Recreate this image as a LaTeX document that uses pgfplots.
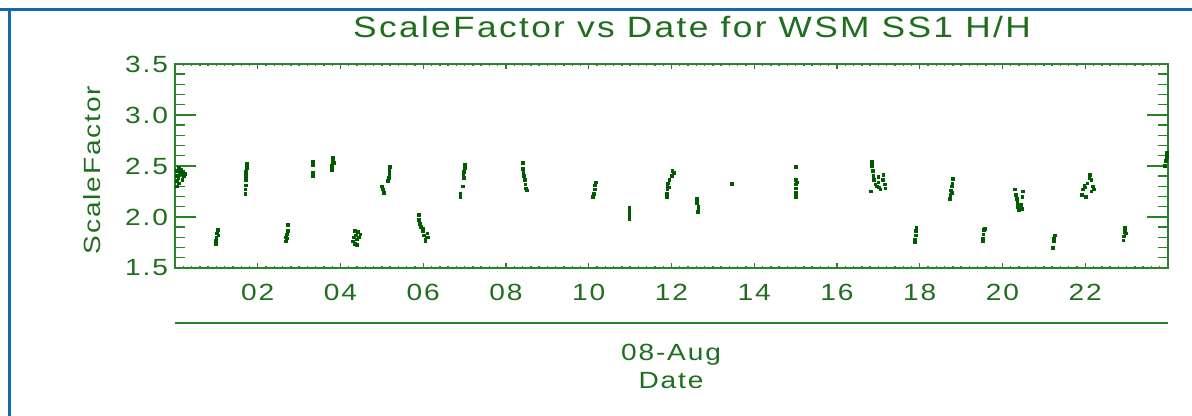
\documentclass[border=0pt]{standalone}
\usepackage{pgfplots}
\pgfplotsset{compat=1.18}
\usepackage{fontspec}
\setmainfont{Liberation Sans}[FakeStretch=1.2,LetterSpace=8]
\definecolor{frameblue}{RGB}{20,105,170}
\definecolor{axgreen}{RGB}{40,130,40}
\definecolor{txtgreen}{RGB}{30,110,30}
\definecolor{datgreen}{RGB}{0,90,0}
\newcommand{\lblfont}{\fontsize{11.7}{14}\selectfont}
\begin{document}
\begin{tikzpicture}[x=0.5pt,y=0.5pt]
\path[use as bounding box] (0,0) rectangle (1192,416);
\draw[frameblue, line width=1.5pt] (0,406) -- (1192,406);
\draw[frameblue, line width=1.5pt] (9,406) -- (9,0);
% axis with x ticks
\begin{axis}[
  at={(87.5pt,74pt)}, anchor=south west,
  scale only axis, width=496.5pt, height=102pt,
  xmin=0, xmax=24, ymin=1.5, ymax=3.5,
  xtick={0,2,...,24},
  xticklabels={,02,04,06,08,10,12,14,16,18,20,22,},
  minor x tick num=9,
  ytick=\empty,
  major tick length=2.5pt, minor tick length=1.2pt,
  axis line style={axgreen, line width=1pt},
  tick style={axgreen, line width=0.7pt},
  xticklabel style={txtgreen, font=\lblfont, yshift=-4.5pt},
]
\end{axis}
% axis with y ticks and data
\begin{axis}[
  at={(87.5pt,74pt)}, anchor=south west,
  scale only axis, width=496.5pt, height=102pt,
  xmin=0, xmax=24, ymin=1.5, ymax=3.5,
  xtick=\empty,
  ytick={1.5,2.0,2.5,3.0,3.5},
  yticklabels={1.5,2.0,2.5,3.0,3.5},
  minor y tick num=4,
  major tick length=10.5pt, minor tick length=5pt,
  axis line style={axgreen, line width=1pt},
  tick style={axgreen, line width=0.7pt},
  yticklabel style={txtgreen, font=\lblfont},
]
\addplot[only marks, mark=square*, mark size=0.7pt, datgreen] coordinates {
(0.05,2.35)(0.05,2.40)(0.05,2.45)(0.08,2.38)(0.08,2.48)(0.1,2.33)(0.12,2.42)(0.15,2.46)(0.18,2.36)(0.2,2.44)(0.22,2.40)(0.25,2.42)(0.05,2.30)(0.1,2.47)
(0.98,1.74)(0.98,1.77)(1.0,1.80)(1.02,1.84)(1.03,1.87)(1.05,1.82)(1.0,1.78)
(1.7,2.23)(1.7,2.27)(1.71,2.31)(1.72,2.36)(1.72,2.40)(1.72,2.44)(1.73,2.48)(1.73,2.52)
(2.68,1.76)(2.68,1.80)(2.7,1.83)(2.72,1.86)(2.72,1.92)(2.7,1.79)
(3.33,2.40)(3.33,2.43)(3.34,2.51)(3.34,2.54)
(3.8,2.46)(3.8,2.50)(3.81,2.54)(3.82,2.58)(3.85,2.53)
(4.3,1.76)(4.32,1.80)(4.35,1.74)(4.38,1.82)(4.4,1.78)(4.42,1.85)(4.45,1.80)(4.48,1.83)(4.35,1.86)(4.4,1.73)
(5.0,2.30)(5.02,2.27)(5.04,2.24)(5.15,2.35)(5.17,2.38)(5.18,2.42)(5.18,2.46)(5.2,2.49)
(5.9,1.97)(5.9,2.02)(5.92,1.93)(5.95,1.90)(6.0,1.86)(6.02,1.82)(6.05,1.78)(6.08,1.80)(6.1,1.84)(6.05,1.76)(6.12,1.80)(6.0,1.88)
(6.9,2.20)(6.9,2.23)(6.95,2.30)(6.97,2.40)(6.98,2.44)(7.0,2.48)(7.0,2.51)(6.98,2.38)
(8.4,2.53)(8.41,2.47)(8.42,2.43)(8.43,2.40)(8.45,2.36)(8.47,2.32)(8.48,2.28)(8.5,2.26)
(10.1,2.20)(10.12,2.23)(10.14,2.27)(10.15,2.31)(10.17,2.34)
(10.98,1.98)(10.98,2.02)(10.98,2.06)(10.98,2.09)
(11.88,2.20)(11.88,2.23)(11.9,2.27)(11.9,2.30)(11.92,2.33)(11.95,2.36)(12.0,2.40)(12.02,2.45)(12.05,2.43)(11.95,2.29)
(12.62,2.18)(12.62,2.14)(12.65,2.10)(12.65,2.07)(12.64,2.05)
(13.45,2.32)(13.45,2.33)
(15.0,2.49)(15.0,2.36)(15.0,2.32)(15.01,2.28)(15.01,2.24)(15.01,2.20)(15.03,2.34)
(16.85,2.54)(16.85,2.50)(16.87,2.45)(16.88,2.40)(16.9,2.36)(16.93,2.32)(16.97,2.30)(17.0,2.34)(17.02,2.29)(17.05,2.27)(17.1,2.36)(17.12,2.41)(17.15,2.32)(17.17,2.28)(16.82,2.25)(17.0,2.39)
(17.88,1.75)(17.89,1.78)(17.9,1.82)(17.9,1.86)(17.92,1.89)
(18.72,2.18)(18.74,2.22)(18.75,2.26)(18.77,2.30)(18.79,2.33)(18.8,2.37)(18.78,2.24)
(19.52,1.76)(19.53,1.79)(19.54,1.83)(19.55,1.87)(19.58,1.88)
(20.3,2.27)(20.32,2.22)(20.34,2.18)(20.36,2.14)(20.38,2.10)(20.4,2.07)(20.45,2.12)(20.47,2.08)(20.48,2.20)(20.5,2.25)
(21.22,1.70)(21.24,1.76)(21.25,1.79)(21.27,1.82)
(21.92,2.22)(21.95,2.27)(21.98,2.31)(22.0,2.29)(22.05,2.33)(22.1,2.38)(22.12,2.41)(22.15,2.36)(22.18,2.30)(22.2,2.27)(22.15,2.25)(22.02,2.20)
(22.92,1.77)(22.93,1.81)(22.95,1.85)(22.96,1.89)(22.98,1.84)
(23.93,2.50)(23.95,2.55)(23.97,2.59)(23.98,2.63)
};
\end{axis}
\draw[axgreen, line width=1pt] (175,93) -- (1168,93);
\node[txtgreen, font=\fontsize{14.7}{17}\selectfont, anchor=base] at (692,378) {ScaleFactor vs Date for WSM SS1 H/H};
\node[txtgreen, font=\lblfont, rotate=90] at (92,246) {ScaleFactor};
\node[txtgreen, font=\lblfont] at (671,61) {08-Aug};
\node[txtgreen, font=\lblfont] at (671,35) {Date};
\end{tikzpicture}
\end{document}
